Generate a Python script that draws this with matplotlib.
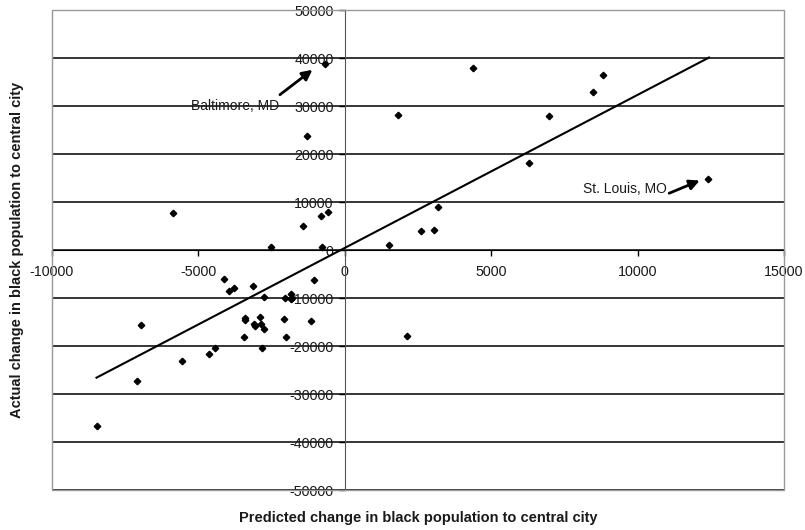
import matplotlib
matplotlib.use("Agg")
import matplotlib.pyplot as plt
from matplotlib.patches import Rectangle

plt.rcParams['font.family'] = ['Liberation Sans', 'DejaVu Sans']

# valores
predito = [-8480, -7110, -6950, -5560, -4630, -4430, -4120, -3970, -3790, -3440,
           -3400, -3400, -3120, -3090, -3070, -2900, -2870, -2750, -2830, -2750,
           -2090, -2010, -2030, -1840, -1800, -1850, -1160, -1050, -2510, -770,
           -660, -1290, -1440, -800, -580, -5880, 1800, 1500, 2610, 3050,
           3200, 4390, 8820, 8470, 6990, 6280, 12420, 2110]
real = [-36700, -27200, -15600, -23200, -21600, -20400, -6100, -8500, -7900, -18100,
        -14100, -14500, -7400, -15400, -15900, -13900, -15400, -16400, -20400, -9800,
        -14300, -18100, -10000, -9200, -10100, -10300, -14700, -6300, 700, 700,
        38700, 23700, 5100, 7000, 7900, 7700, 28100, 1000, 3900, 4200,
        9000, 37900, 36400, 33000, 27900, 18200, 14700, -18000]

# linha de tendência (extremos)
tend_x = [-8480, 12440]
tend_y = [-26600, 40100]

x_ticks = [-10000, -5000, 0, 5000, 10000, 15000]
y_ticks = [-50000, -40000, -30000, -20000, -10000, 0, 10000, 20000, 30000, 40000, 50000]

# anotações: texto, posição do texto, cauda e ponta da seta
anot_nomes = ['Baltimore, MD', 'St. Louis, MO']
anot_texto = [(-2250, 30100), (11000, 12700)]
anot_cauda = [(-2290, 32000), (10990, 11600)]
anot_ponta = [(-1030, 37900), (12210, 14700)]

fig = plt.figure(figsize=(8.05, 5.3), dpi=100)
ax = fig.add_axes([52 / 805, 40 / 530, 732 / 805, 480 / 530])
ax.set_xlim(-10000, 15000)
ax.set_ylim(-50000, 50000)

ax.spines['left'].set_position(('data', 0))
ax.spines['bottom'].set_position(('data', 0))
ax.spines['left'].set_color('#555555')
ax.spines['bottom'].set_color('black')
ax.spines['top'].set_visible(False)
ax.spines['right'].set_visible(False)

ax.set_xticks(x_ticks)
ax.set_yticks(y_ticks)
ax.set_xticklabels([str(v) for v in x_ticks])
ax.set_yticklabels([str(v) for v in y_ticks])
ax.tick_params(axis='both', direction='out', length=4, width=1, labelsize=10.3,
               labelcolor='#1a1a1a')
ax.tick_params(axis='x', pad=7)
ax.tick_params(axis='y', pad=4)

ax.yaxis.grid(True, color='black', lw=1.1)
ax.set_axisbelow(True)

ax.add_patch(Rectangle((0, 0), 1, 1, transform=ax.transAxes, fill=False,
                       edgecolor='#999999', lw=1, zorder=5, clip_on=False))

ax.plot(tend_x, tend_y, color='black', lw=1.5, zorder=3)
ax.plot(predito, real, linestyle='none', marker='D', markersize=3.3,
        color='black', zorder=4)

for nome, txt, cauda, ponta in zip(anot_nomes, anot_texto, anot_cauda, anot_ponta):
    ax.annotate('', xy=ponta, xytext=cauda,
                arrowprops=dict(arrowstyle='-|>,head_length=0.6,head_width=0.3',
                                lw=2, color='black'), zorder=6)
    ax.text(txt[0], txt[1], nome, ha='right', va='center', fontsize=10,
            color='#1a1a1a', zorder=6)

fig.text(418 / 805, 1 - 518 / 530, 'Predicted change in black population to central city',
         ha='center', va='center', fontsize=10.5, fontweight='bold', color='#1a1a1a')
fig.text(17 / 805, 1 - 250 / 530, 'Actual change in black population to central city',
         ha='center', va='center', rotation=90, fontsize=10.5, fontweight='bold',
         color='#1a1a1a')

fig.savefig('out.png', dpi=100)
